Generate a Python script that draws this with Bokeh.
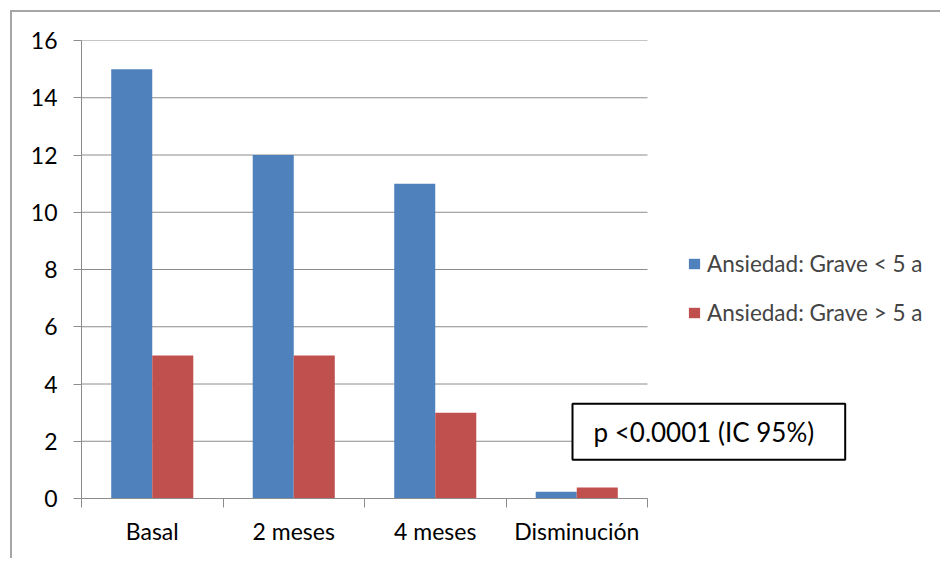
from bokeh.plotting import figure
from bokeh.models import (Range1d, FixedTicker, Legend, LegendItem, Label)
from bokeh.embed import file_html
from bokeh.resources import INLINE

categories = ["Basal", "2 meses", "4 meses", "Disminución"]
series_names = ["Ansiedad: Grave < 5 a", "Ansiedad: Grave > 5 a"]
values_lt5 = [15, 12, 11, 0.24]
values_gt5 = [5, 5, 3, 0.38]
y_ticks = [0, 2, 4, 6, 8, 10, 12, 14, 16]
annotation_text = "p <0.0001 (IC 95%)"

colors = ["#4F81BD", "#C0504D"]
FONT = "Lato"
GRID = "#8C8C8C"

n = len(categories)
W, H = 930, 548
BL, BT = 69, 28
BB = H - 486
cat_px = 141.5
frame_w = W - BL
x_end = frame_w / cat_px

p = figure(width=W, height=H, output_backend="svg", toolbar_location=None,
           x_range=Range1d(0, x_end), y_range=Range1d(0, 16),
           min_border_left=BL, min_border_right=0, min_border_top=BT,
           min_border_bottom=BB)
p.outline_line_color = None
p.background_fill_color = "white"
p.border_fill_color = "white"

# horizontal gridlines limited to the category area
p.segment(x0=[0] * len(y_ticks), x1=[n] * len(y_ticks), y0=y_ticks, y1=y_ticks,
          line_color=GRID, line_width=1)

bw = 0.29
centers = [i + 0.5 for i in range(n)]
r1 = p.vbar(x=[c - bw / 2 for c in centers], top=values_lt5, width=bw,
            fill_color=colors[0], line_color=None)
r2 = p.vbar(x=[c + bw / 2 for c in centers], top=values_gt5, width=bw,
            fill_color=colors[1], line_color=None)

p.xaxis.bounds = (0, n)
p.xaxis.ticker = FixedTicker(ticks=centers, minor_ticks=list(range(n + 1)))
p.xaxis.major_label_overrides = {c: lab for c, lab in zip(centers, categories)}
p.xaxis.major_tick_line_color = None
p.xaxis.minor_tick_line_color = GRID
p.xaxis.minor_tick_out = 9
p.xaxis.minor_tick_in = 0
p.xaxis.axis_line_color = GRID
p.xaxis.major_label_standoff = 9
p.xaxis.major_label_text_font = FONT
p.xaxis.major_label_text_font_size = "23px"
p.xaxis.major_label_text_color = "black"

p.yaxis.ticker = FixedTicker(ticks=y_ticks)
p.yaxis.minor_tick_line_color = None
p.yaxis.major_tick_line_color = GRID
p.yaxis.major_tick_out = 8
p.yaxis.major_tick_in = 0
p.yaxis.axis_line_color = GRID
p.yaxis.major_label_standoff = 16
p.yaxis.major_label_text_font = FONT
p.yaxis.major_label_text_font_size = "23px"
p.yaxis.major_label_text_color = "black"

p.xgrid.grid_line_color = None
p.ygrid.grid_line_color = None

legend = Legend(items=[LegendItem(label=series_names[0], renderers=[r1]),
                       LegendItem(label=series_names[1], renderers=[r2])],
                location=(606, 172), padding=0, margin=0,
                border_line_color=None, background_fill_alpha=0,
                glyph_width=14, glyph_height=13, label_standoff=6,
                label_text_font=FONT, label_text_font_size="22.5px",
                label_height=22, spacing=22)
p.add_layout(legend, "center")

lab = Label(x=3.47, y=1.35, text=annotation_text, text_font=FONT,
            text_font_size="26px", text_color="black",
            border_line_color="black", border_line_width=2,
            background_fill_color="white",
            padding=dict(left=21, right=31, top=12, bottom=12))
p.add_layout(lab)

p.styles = {"margin-left": "10px", "margin-top": "10px",
            "border-top": "2px solid #A6A6A6", "border-left": "2px solid #A6A6A6"}

open("out.html", "w").write(file_html(p, INLINE))
